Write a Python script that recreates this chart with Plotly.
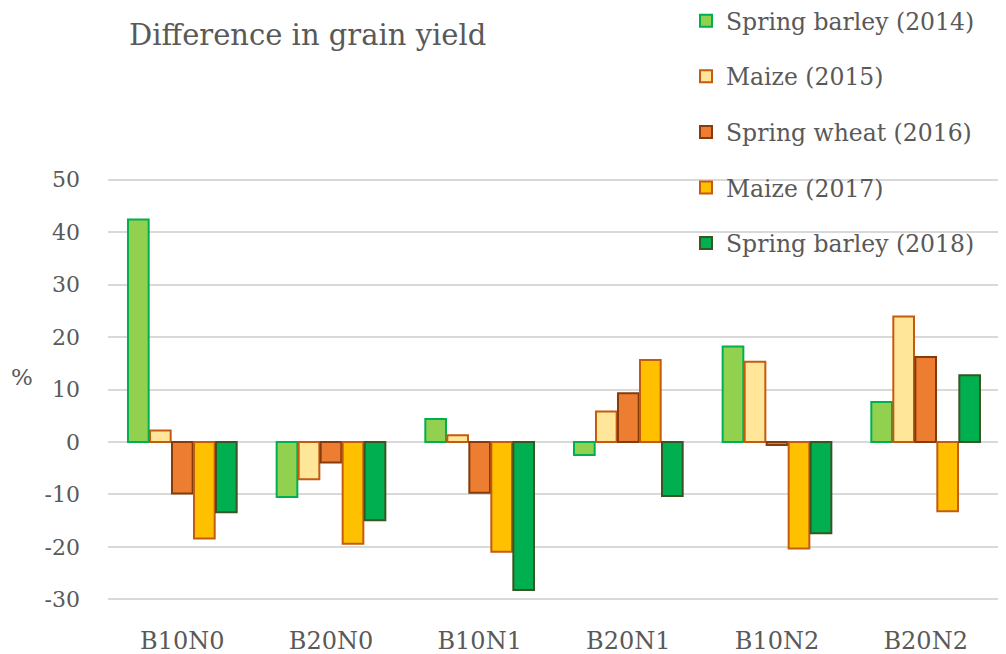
import plotly.graph_objects as go

categories = ["B10N0", "B20N0", "B10N1", "B20N1", "B10N2", "B20N2"]
series_names = ["Spring barley (2014)", "Maize (2015)", "Spring wheat (2016)",
                "Maize (2017)", "Spring barley (2018)"]
spring_barley_2014 = [42.4, -10.5, 4.4, -2.5, 18.2, 7.6]
maize_2015 = [2.2, -7.1, 1.3, 5.8, 15.3, 23.9]
spring_wheat_2016 = [-9.8, -3.9, -9.7, 9.3, -0.6, 16.2]
maize_2017 = [-18.4, -19.4, -20.9, 15.6, -20.3, -13.2]
spring_barley_2018 = [-13.4, -14.9, -28.2, -10.3, -17.4, 12.7]
y_ticks = [-30, -20, -10, 0, 10, 20, 30, 40, 50]
y_tick_labels = ["-30", "-20", "-10", "0", "10", "20", "30", "40", "50"]

values = [spring_barley_2014, maize_2015, spring_wheat_2016, maize_2017, spring_barley_2018]
fills = ["#92D050", "#FFE699", "#ED7D31", "#FFC000", "#00B050"]
borders = ["#00B050", "#C55A11", "#843C0C", "#C55A11", "#375623"]

FONT = "DejaVu Serif"
TXT = "#595959"
# page body has an 8px margin, so the figure is drawn 8px smaller
W, H = 998, 646
ML, MR, MT, MB = 100, 6, 169, 52
PW = W - ML - MR
PH = H - MT - MB

fig = go.Figure()
for name, vals, fc, bc in zip(series_names, values, fills, borders):
    fig.add_trace(go.Bar(
        x=categories, y=vals, name=name, legendgroup=name,
        marker=dict(color=fc, line=dict(color=bc, width=2)),
    ))

fig.update_layout(
    width=W, height=H,
    margin=dict(l=ML, r=MR, t=MT, b=MB, autoexpand=False),
    paper_bgcolor="white", plot_bgcolor="white",
    barmode="group", bargap=0.26, bargroupgap=0.06,
    font=dict(family=FONT, color=TXT, size=22),
    title=dict(text="Difference in grain yield", x=121/W, xanchor="left",
               xref="container", y=1 - 27/H, yanchor="middle",
               font=dict(family=FONT, size=29, color=TXT)),
    legend=dict(x=(678 - ML) / PW, xanchor="left", y=1 + (MT + 9) / PH, yref="paper",
                yanchor="top", bgcolor="rgba(0,0,0,0)", traceorder="grouped",
                tracegroupgap=22, font=dict(family=FONT, size=23.5, color=TXT)),
    showlegend=True,
    shapes=[dict(type="rect", xref="paper", yref="paper", layer="between",
                 x0=(633 - ML) / PW, x1=1.01, y0=1 - 80 / PH, y1=1.02,
                 fillcolor="white", line=dict(width=0))],
)
fig.update_yaxes(range=[-30.5, 50.5], tickvals=y_ticks, ticktext=y_tick_labels,
                 showgrid=True, gridcolor="#D9D9D9", gridwidth=1.5, zeroline=True,
                 zerolinecolor="#D9D9D9", zerolinewidth=1.5, showline=False,
                 ticklabelstandoff=27, tickfont=dict(size=22, family=FONT, color=TXT))
fig.update_xaxes(showgrid=False, showline=False, ticks="", ticklabelstandoff=22,
                 tickfont=dict(size=24, family=FONT, color=TXT))
fig.add_annotation(text="%", xref="paper", yref="paper", x=(14 - ML) / PW,
                   y=(H - MB - 369) / PH, xanchor="center", yanchor="middle",
                   showarrow=False, font=dict(size=23, family=FONT, color=TXT))

fig.write_html("out.html")
